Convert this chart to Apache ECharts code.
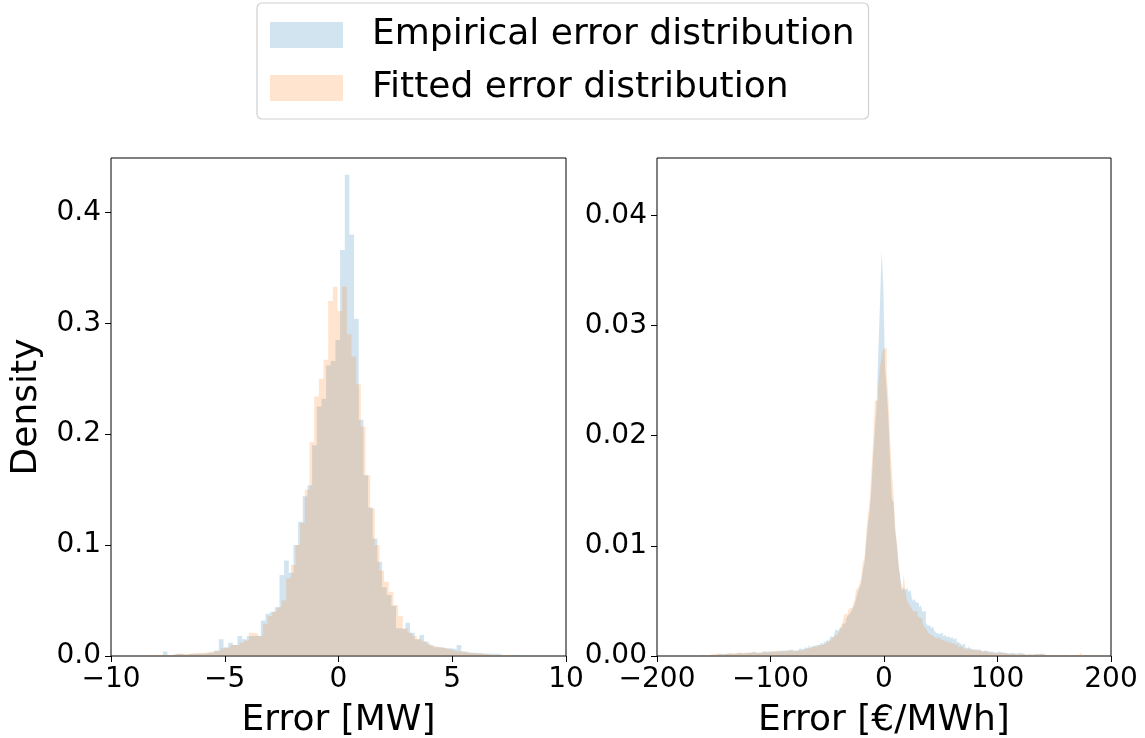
<!DOCTYPE html>
<html>
<head>
<meta charset="utf-8">
<script src="https://cdn.jsdelivr.net/npm/echarts@6/dist/echarts.min.js"></script>
<style>
html,body{margin:0;padding:0;background:#fff;}
#c{width:1145px;height:738px;}
</style>
</head>
<body>
<div id="c"></div>
<script>
// ---- legend / titles ----
const seriesNames = ['Empirical error distribution', 'Fitted error distribution'];
const leftXTitle = 'Error [MW]';
const rightXTitle = 'Error [€/MWh]';
const yTitle = 'Density';

// ---- tick values ----
const leftXTicks = [-10, -5, 0, 5, 10];
const leftYTicks = [0, 0.1, 0.2, 0.3, 0.4];
const rightXTicks = [-200, -100, 0, 100, 200];
const rightYTicks = [0, 0.01, 0.02, 0.03, 0.04];

// ---- left panel histograms (density per bin) ----
const leftEmpStart = -8.13, leftFitStart = -8.244, leftBinWidth = 0.205;
const leftEmp = [
  0.001,0.001,0.004,0.001,0.002,0.002,0.001,0.002,0.002,0.002,
  0.002,0.003,0.003,0.005,0.015,0.008,0.012,0.010,0.018,0.015,
  0.018,0.018,0.018,0.032,0.038,0.040,0.044,0.073,0.086,0.075,
  0.100,0.121,0.144,0.154,0.190,0.225,0.232,0.262,0.266,0.285,
  0.366,0.434,0.380,0.304,0.213,0.163,0.134,0.106,0.085,0.062,
  0.055,0.045,0.025,0.024,0.030,0.021,0.015,0.019,0.013,0.010,
  0.008,0.008,0.007,0.007,0.006,0.010,0.004,0.003,0.003,0.003,
  0.002,0.002,0.002,0.002,0.001,0.001,0.001,0.001,0.0005,0,0
];
const leftFit = [
  0.001,0.001,0.001,0.001,0.001,0.002,0.002,0.002,0.002,0.003,
  0.003,0.003,0.004,0.004,0.005,0.007,0.008,0.010,0.010,0.012,
  0.014,0.021,0.020,0.018,0.029,0.036,0.040,0.044,0.050,0.070,
  0.082,0.100,0.120,0.150,0.193,0.234,0.250,0.267,0.320,0.333,
  0.311,0.333,0.290,0.270,0.245,0.207,0.163,0.133,0.100,0.077,
  0.067,0.058,0.046,0.036,0.025,0.021,0.018,0.015,0.013,0.011,
  0.009,0.008,0.007,0.006,0.005,0.004,0.004,0.003,0.003,0.002,
  0.002,0.002,0.001,0.001,0.001,0.001,0.001,0.0005,0,0,0
];

// ---- right panel histograms ----
const rightStart = -162.6, rightBinWidth = 1.5;
const rightEmp = [
  0.0001,0.0001,0,0.0001,0.0001,0.0001,0.0002,0.0001,
  0.0002,0.0001,0.0002,0.0002,0.0001,0.0002,0.0002,0.0002,0.0003,0.0002,0.0002,0.0002,0.0003,0.0002,0.0002,0.0003,
  0.0003,0.0002,0.0003,0.0003,0.0004,0.0003,0.0003,0.0004,0.0003,0.0003,0.0004,0.0003,0.0004,0.0004,0.0003,0.0004,0.0004,
  0.0004,0.0005,0.0004,0.0005,0.0004,0.0005,0.0005,0.0004,0.0005,0.0006,0.0005,0.0005,0.0006,
  0.0005,0.0005,0.0006,0.0005,0.0006,0.0007,0.0006,0.0007,
  0.0008,0.0007,0.0010,0.0008,0.0009,0.0008,0.0010,0.0009,
  0.0010,0.0012,0.0011,0.0014,0.0012,0.0015,0.0013,
  0.0018,0.0017,0.0019,0.0024,0.0023,0.0025,0.0026,0.0029,0.0030,0.0033,0.0036,
  0.0038,0.0040,0.0043,0.0046,0.0052,0.0058,0.0062,0.0066,0.0078,0.0085,0.0104,0.0120,0.0132,0.0152,0.0180,0.0205,0.0225,0.0273,0.0318,0.0368,
  0.0335,0.0262,0.0240,0.0215,0.0175,0.0142,0.0140,0.0112,0.0100,0.0082,0.0071,0.0060,
  0.0062,0.0060,0.0062,0.0058,0.0060,0.0050,0.0052,0.0049,0.0048,0.0044,0.0046,0.0040,0.0041,0.0030,0.0028,0.0027,0.0025,0.0027,0.0023,0.0021,
  0.0020,0.0019,0.0021,0.0018,0.0019,0.0017,0.0018,0.0016,0.0017,0.0015,0.0016,0.0013,0.0012,0.0013,0.0010,0.0011,
  0.0008,0.0007,0.0009,0.0007,0.0006,0.0007,0.0006,0.0005,0.0006,0.0005,
  0.0004,0.0005,0.0004,0.0004,0.0003,0.0004,0.0003,
  0.0003,0.0003,0.0004,0.0003,0.0003,0.0002,0.0003,0.0003,0.0002,0.0003,0.0003,0.0002,
  0.0002,0.0002,0.0003,0.0002,0.0002,0.0002,0.0001,0.0002,0.0002,0.0002,0.0001,0.0002,0.0002,0.0001,0.0002,0.0001,0.0002,
  0.0001,0.0001,0.0002,0.0001,0.0001,0.0001,0,0.0001,0.0001,0.0001,
  0.0001,0,0.0001,0.0001,0.0001,0,0.0001,0.0001,0,0.0001,
  0.0001,0,0.0001,0,0.0001,0.0001,0,0.0001,0,0.0001,
  0,0.0001,0,0,0.0001,0,0,0
];
const rightFit = [
  0.0001,0,0.0001,0.0001,0.0001,0.0001,0.0001,0.0002,
  0.0001,0.0002,0.0001,0.0002,0.0002,0.0001,0.0002,0.0002,0.0002,0.0003,0.0002,0.0002,0.0002,0.0003,0.0002,0.0003,
  0.0003,0.0003,0.0002,0.0003,0.0003,0.0003,0.0004,0.0003,0.0003,0.0003,0.0004,0.0003,0.0003,0.0004,0.0004,0.0003,0.0004,
  0.0004,0.0004,0.0004,0.0004,0.0005,0.0004,0.0004,0.0005,0.0004,0.0005,0.0005,0.0004,0.0005,
  0.0005,0.0004,0.0005,0.0005,0.0006,0.0005,0.0006,0.0006,
  0.0007,0.0007,0.0008,0.0007,0.0008,0.0009,0.0008,0.0009,
  0.0010,0.0010,0.0011,0.0011,0.0012,0.0013,0.0014,
  0.0015,0.0016,0.0018,0.0019,0.0020,0.0022,0.0027,0.0030,0.0038,0.0038,0.0040,
  0.0043,0.0044,0.0046,0.0050,0.0060,0.0062,0.0065,0.0071,0.0085,0.0089,0.0113,0.0129,0.0141,0.0168,0.0195,0.0232,0.0232,0.0245,0.0262,0.0272,
  0.0279,0.0279,0.0256,0.0232,0.0195,0.0168,0.0147,0.0117,0.0102,0.0082,0.0068,0.0058,
  0.0075,0.0058,0.0050,0.0047,0.0045,0.0042,0.0040,0.0041,0.0037,0.0035,0.0034,0.0030,0.0027,0.0025,0.0022,0.0020,0.0019,0.0018,0.0017,0.0016,
  0.0015,0.0016,0.0014,0.0015,0.0013,0.0014,0.0012,0.0013,0.0011,0.0012,0.0010,0.0011,0.0008,0.0009,0.0008,0.0007,
  0.0006,0.0006,0.0007,0.0005,0.0006,0.0005,0.0005,0.0004,0.0005,0.0004,
  0.0004,0.0003,0.0004,0.0003,0.0003,0.0004,0.0003,
  0.0003,0.0002,0.0003,0.0003,0.0002,0.0003,0.0002,0.0002,0.0003,0.0002,0.0002,0.0002,
  0.0002,0.0001,0.0002,0.0002,0.0001,0.0002,0.0002,0.0001,0.0002,0.0001,0.0001,0.0002,0.0001,0.0001,0.0001,0.0002,0.0001,
  0.0001,0.0001,0.0001,0,0.0001,0.0001,0.0001,0,0.0001,0.0001,
  0.0001,0.0001,0,0.0001,0.0001,0,0.0001,0.0001,0.0001,0,
  0.0001,0.0001,0.0003,0.0001,0,0.0001,0.0001,0,0.0001,0,
  0.0001,0,0,0.0001,0,0,0,0
];

// histogram bins -> step-line points [edge, height]
function binsToSteps(start, width, heights) {
  const pts = heights.map((h, i) => [start + i * width, h]);
  pts.push([start + heights.length * width, heights[heights.length - 1]]);
  return pts;
}

const FONT = 'DejaVu Sans';
const BLUE = '#1f77b4', ORANGE = '#ff7f0e';
const BLUE_L = 'rgb(210,228,240)', ORANGE_L = 'rgb(255,229,207)';
const minus = v => String(v).replace('-', '\u2212');

function axisCfg(idx, min, max, ticks, title, fmt, gap) {
  return {
    type: 'value', gridIndex: idx, min: min, max: max,
    name: title, nameLocation: 'middle', nameGap: gap,
    nameTextStyle: {fontSize: 36, color: '#000', fontFamily: FONT},
    axisLine: {show: false, onZero: false},
    axisTick: {show: true, inside: false, length: 6, lineStyle: {color: '#000', width: 1}, customValues: ticks},
    axisLabel: {show: true, fontSize: 28, color: '#000', fontFamily: FONT, margin: 10, customValues: ticks, formatter: fmt},
    splitLine: {show: false}
  };
}

function histSeries(name, xi, data, color, light) {
  return {
    type: 'line', name: name, xAxisIndex: xi, yAxisIndex: xi,
    data: data, step: 'end', showSymbol: false, symbol: 'none', silent: true,
    color: light,
    lineStyle: {width: 0, opacity: 0},
    itemStyle: {color: light},
    areaStyle: {color: color, opacity: 0.2},
    animation: false
  };
}

const chart = echarts.init(document.getElementById('c'), null, {renderer: 'canvas'});
chart.setOption({
  animation: false,
  backgroundColor: '#fff',
  textStyle: {fontFamily: FONT},
  legend: {
    orient: 'vertical', left: 257, top: 3,
    padding: [14, 14, 13, 13],
    itemWidth: 73, itemHeight: 26, itemGap: 17,
    backgroundColor: '#fff', borderColor: '#d0d0d0', borderWidth: 1.2, borderRadius: 5,
    textStyle: {fontSize: 36, color: '#000', fontFamily: FONT, padding: [0, 0, 0, 24], lineHeight: 36},
    itemStyle: {borderWidth: 0},
    lineStyle: {width: 0, opacity: 0},
    data: [
      {name: seriesNames[0], icon: 'rect', itemStyle: {color: BLUE_L}},
      {name: seriesNames[1], icon: 'rect', itemStyle: {color: ORANGE_L}}
    ]
  },
  grid: [
    {left: 111, top: 158, width: 455, height: 498, show: true, borderColor: '#000', borderWidth: 1, backgroundColor: 'transparent', containLabel: false, outerBoundsMode: 'none'},
    {left: 657, top: 158, width: 454, height: 498, show: true, borderColor: '#000', borderWidth: 1, backgroundColor: 'transparent', containLabel: false, outerBoundsMode: 'none'}
  ],
  xAxis: [
    axisCfg(0, -10, 10, leftXTicks, leftXTitle, v => minus(v), 47),
    axisCfg(1, -200, 200, rightXTicks, rightXTitle, v => minus(v), 47)
  ],
  yAxis: [
    axisCfg(0, 0, 0.449, leftYTicks, yTitle, v => v.toFixed(1), 66),
    axisCfg(1, 0, 0.0452, rightYTicks, '', v => v.toFixed(2), 60)
  ],
  series: [
    histSeries(seriesNames[0], 0, binsToSteps(leftEmpStart, leftBinWidth, leftEmp), BLUE, BLUE_L),
    histSeries(seriesNames[1], 0, binsToSteps(leftFitStart, leftBinWidth, leftFit), ORANGE, ORANGE_L),
    histSeries(seriesNames[0], 1, binsToSteps(rightStart, rightBinWidth, rightEmp), BLUE, BLUE_L),
    histSeries(seriesNames[1], 1, binsToSteps(rightStart, rightBinWidth, rightFit), ORANGE, ORANGE_L)
  ]
});
</script>
</body>
</html>
